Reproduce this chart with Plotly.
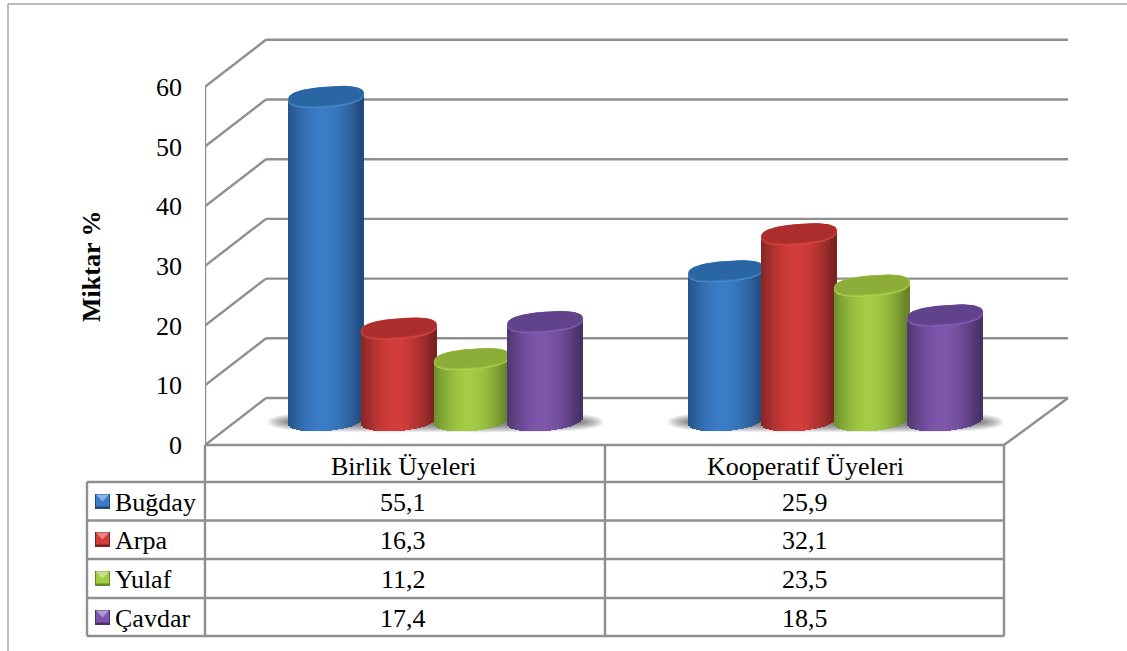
import numpy as np
import plotly.graph_objects as go

categories = ["Birlik Üyeleri", "Kooperatif Üyeleri"]
series_names = ["Buğday", "Arpa", "Yulaf", "Çavdar"]
bugday = [55.1, 25.9]
arpa = [16.3, 32.1]
yulaf = [11.2, 23.5]
cavdar = [17.4, 18.5]
value_labels = [["55,1", "25,9"], ["16,3", "32,1"], ["11,2", "23,5"], ["17,4", "18,5"]]
y_ticks = [0, 10, 20, 30, 40, 50, 60]
series_values = [bugday, arpa, yulaf, cavdar]

W, H = 1127, 651
PX_PER_UNIT = 5.97
Y0_PX = 445.0
FONT = "Liberation Serif"
FS = 26
GRID = "#8f8f8f"


def v(px):
    """Screen row to axis value"""
    return (Y0_PX - px) / PX_PER_UNIT


def mix(a, b, t):
    ca = [int(a[i:i + 2], 16) for i in (1, 3, 5)]
    cb = [int(b[i:i + 2], 16) for i in (1, 3, 5)]
    return "rgb(%d,%d,%d)" % tuple(round(x + (y - x) * t) for x, y in zip(ca, cb))


# light, dark, cap rim, cap inner
palette = [
    ("#3a7cc6", "#224c7e", "#4a8cd3", "#2a66a3"),
    ("#d23d3c", "#7a2221", "#dc4745", "#ab2e2d"),
    ("#a4cc45", "#66842a", "#aed350", "#8cae38"),
    ("#7d56ab", "#493165", "#8961b8", "#60438a"),
]
group_centers = [435.5, 835.5]
bar_offsets = [-109.5, -36.5, 36.5, 109.5]
RX, RY, TILT = 38.0, 10.5, 3.0
TOP0_PX, BASE_PX = 426.0, 421.0

fig = go.Figure()

# floor shadows
for gc in group_centers:
    for i in range(12):
        a = 168 - i * 2.0
        b = 10.5 - i * 0.7
        t = np.linspace(0, 2 * np.pi, 121)
        xs = gc + a * np.sign(np.cos(t)) * np.abs(np.cos(t)) ** 0.4
        ys = 422 + b * np.sign(np.sin(t)) * np.abs(np.sin(t)) ** 0.8
        fig.add_trace(go.Scatter(x=xs, y=v(ys), mode="lines", fill="toself", line=dict(width=0),
                                 fillcolor="rgba(60,60,60,0.07)", hoverinfo="skip", showlegend=False, zorder=0))

# cylinders
dxs = np.arange(-37, 38, 2.0)
for s, vals in enumerate(series_values):
    light, dark, rim, inner = palette[s]
    xs, tops, bases, cols = [], [], [], []
    for g, val in enumerate(vals):
        cx = group_centers[g] + bar_offsets[s]
        top_px = TOP0_PX - PX_PER_UNIT * val
        for dx in dxs:
            u = dx / RX
            shade = min(1.0, abs(u + 0.08) ** 1.8 * 1.02)
            low = BASE_PX - TILT * u + 10.0 * np.sqrt(1 - u * u)
            xs.append(cx + dx)
            bases.append(v(low))
            tops.append(v(top_px - TILT * u) - v(low))
            cols.append(mix(light, dark, shade))
    fig.add_trace(go.Bar(x=xs, y=tops, base=bases, width=2.0, name=series_names[s],
                         marker=dict(color=cols, line=dict(width=0)), hoverinfo="skip",
                         showlegend=False, zorder=2 * s + 1))
    t = np.linspace(0, 2 * np.pi, 97)
    ct = np.sign(np.cos(t)) * np.abs(np.cos(t)) ** 0.8
    st = np.sign(np.sin(t)) * np.abs(np.sin(t)) ** 0.8
    layers = [(1.0, 1.0, 0.0, 0.0), (0.995, 0.95, -0.3, 0.4), (0.985, 0.9, -0.6, 0.75), (0.97, 0.86, -0.9, 1.0)]
    for g, val in enumerate(vals):
        cx = group_centers[g] + bar_offsets[s]
        top_px = TOP0_PX - PX_PER_UNIT * val
        for sx, sy, shift, amount in layers:
            ex = cx + RX * sx * ct
            ey = top_px + shift + RY * sy * st - TILT * sx * ct
            fig.add_trace(go.Scatter(x=ex, y=v(ey), mode="lines", fill="toself", line=dict(width=0),
                                     fillcolor=mix(rim, inner, amount), hoverinfo="skip", showlegend=False,
                                     zorder=2 * s + 2))

# walls, floor, gridlines in axis coordinates
DEPTH_X, DEPTH_V = 61, 47 / PX_PER_UNIT
LEFT, FRONT_R, BACK_R = 205, 1004, 1068
shapes = []


def seg(x0, y0, x1, y1, ref="x", color=GRID, width=2.4):
    shapes.append(dict(type="line", xref=ref, yref="y" if ref == "x" else "paper", x0=x0, y0=y0, x1=x1, y1=y1,
                       line=dict(color=color, width=width), layer="below"))


for tick in y_ticks:
    seg(LEFT, tick, LEFT + DEPTH_X, tick + DEPTH_V)
    seg(LEFT + DEPTH_X, tick + DEPTH_V, BACK_R, tick + DEPTH_V)
seg(LEFT, 0, LEFT, 60)
seg(LEFT, 0, FRONT_R, 0)
seg(FRONT_R, 0, BACK_R, DEPTH_V)


def px(x):
    return x / W


def py(y):
    return 1 - y / H


# outer frame
seg(px(8), py(4), px(1127), py(4), "paper", "#a6a6a6", 1.5)
seg(px(8), py(4), px(8), py(651), "paper", "#a6a6a6", 1.5)

# data table rules
rows = [482, 520.5, 559, 598, 636]
for r in rows:
    seg(px(87), py(r), px(1004), py(r), "paper")
seg(px(87), py(482), px(87), py(636), "paper")
seg(px(205), py(445), px(205), py(636), "paper")
seg(px(605), py(445), px(605), py(636), "paper")
seg(px(1004), py(445), px(1004), py(636), "paper")

annotations = []


def label(x, y, text, xanchor="center"):
    annotations.append(dict(xref="paper", yref="paper", x=px(x), y=py(y), text=text, showarrow=False,
                            xanchor=xanchor, yanchor="middle",
                            font=dict(family=FONT, size=FS, color="#000000")))


col_centers = [403, 805]
for c, name in zip(col_centers, categories):
    label(c, 466, name)
row_centers = [502, 540, 579, 618]
for s, name in enumerate(series_names):
    label(113, row_centers[s], name, xanchor="left")
    light, dark, rim, inner = palette[s]
    yc = row_centers[s] - 0.5
    shapes.append(dict(type="rect", xref="paper", yref="paper", x0=px(95), x1=px(110), y0=py(yc - 7.5), y1=py(yc + 7.5),
                       fillcolor=dark, line=dict(width=0), layer="above"))
    shapes.append(dict(type="rect", xref="paper", yref="paper", x0=px(96), x1=px(109), y0=py(yc - 7), y1=py(yc + 5),
                       fillcolor=light, line=dict(width=0), layer="above"))
    shapes.append(dict(type="path", xref="paper", yref="paper",
                       path=f"M {px(96)} {py(yc-7)} L {px(109)} {py(yc-7)} L {px(102.5)} {py(yc)} Z",
                       fillcolor=mix(rim, "#ffffff", 0.35), line=dict(width=0), layer="above"))
    for c, text in zip(col_centers, value_labels[s]):
        label(c, row_centers[s], text)
annotations.append(dict(xref="paper", yref="paper", x=px(91), y=py(267), text="<b>Miktar %</b>", textangle=-90,
                        xanchor="center", yanchor="middle",
                        showarrow=False, font=dict(family=FONT, size=FS, color="#000000")))

fig.update_layout(
    width=W, height=H, margin=dict(l=0, r=0, t=0, b=0, autoexpand=False),
    paper_bgcolor="#ffffff", plot_bgcolor="rgba(0,0,0,0)", barmode="overlay", bargap=0,
    showlegend=False, shapes=shapes, annotations=annotations,
    xaxis=dict(domain=[px(LEFT), 1], range=[LEFT, W], visible=False, fixedrange=True),
    yaxis=dict(range=[v(H), v(0)], tickmode="array", tickvals=y_ticks, ticktext=[str(t) for t in y_ticks],
               showgrid=False, zeroline=False, showline=False, ticks="", ticklabelstandoff=22,
               tickfont=dict(family=FONT, size=FS, color="#000000"), fixedrange=True),
)
fig.write_html("out.html", config=dict(displayModeBar=False),
               post_script="document.body.style.margin='0';document.body.style.overflow='hidden';")
